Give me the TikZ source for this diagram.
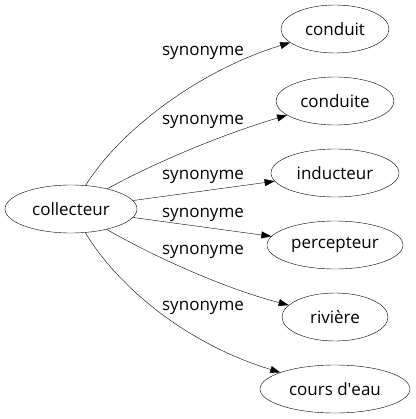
\documentclass[tikz,border=0pt]{standalone}
\usepackage{fontspec}
\setmainfont{Open Sans}
\usetikzlibrary{shapes.geometric, arrows.meta}

\begin{document}
\begin{tikzpicture}[x=1pt, y=-1pt, >={Triangle[length=10pt, width=7pt]},
  word/.style={ellipse, draw, inner sep=0pt, minimum height=48pt, font=\fontsize{17}{19}\selectfont},
  rel/.style={font=\fontsize{17}{19}\selectfont}]
\useasboundingbox (0,0) rectangle (415,419);

\node[word, minimum width=132pt] (col) at (71,209) {collecteur};
\node[word, minimum width=108pt] (cdt) at (335,29) {conduit};
\node[word, minimum width=118pt] (cdte) at (335,101) {conduite};
\node[word, minimum width=128pt] (ind) at (335,173) {inducteur};
\node[word, minimum width=136pt] (per) at (335,245) {percepteur};
\node[word, minimum width=106pt] (riv) at (335,317) {rivière};
\node[word, minimum width=150pt] (cde) at (335,389) {cours d\textquotesingle eau};

\draw[->] (col) .. controls (120,130) and (200,70) .. (cdt);
\draw[->] (col) .. controls (150,165) and (220,135) .. (cdte);
\draw[->] (col) -- (ind);
\draw[->] (col) -- (per);
\draw[->] (col) .. controls (160,260) and (230,290) .. (riv);
\draw[->] (col) .. controls (120,290) and (190,345) .. (cde);

\node[rel] (r1) at (203,53) {synonyme};
\node[rel] (r2) at (203,122) {synonyme};
\node[rel] (r3) at (203,177) {synonyme};
\node[rel] (r4) at (203,215) {synonyme};
\node[rel] (r5) at (203,252) {synonyme};
\node[rel] (r6) at (203,308) {synonyme};
\end{tikzpicture}
\end{document}
